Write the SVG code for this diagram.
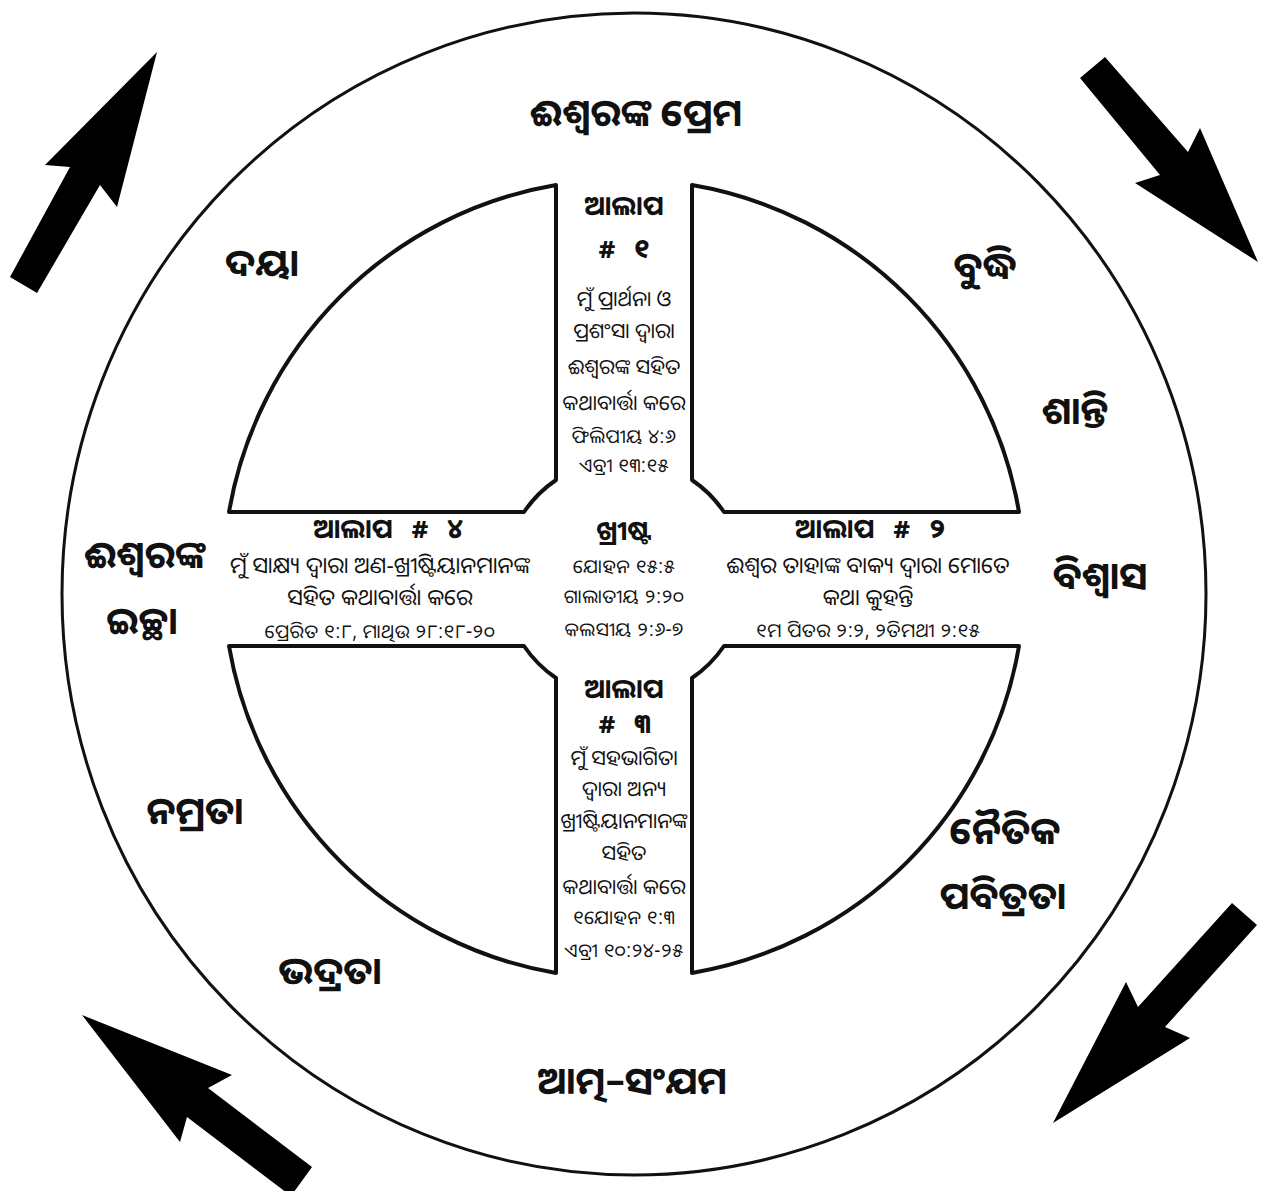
<svg xmlns="http://www.w3.org/2000/svg" width="1282" height="1191" viewBox="0 0 1282 1191">
<style>
text{font-family:"Noto Sans Oriya","Noto Sans","DejaVu Sans",sans-serif;fill:#111;text-anchor:middle}
.big{font-size:38px;font-weight:bold}
.hd{font-size:27px;font-weight:bold;word-spacing:12px}
.bd{font-size:22.5px}
.cl{font-size:21px}
.rf{font-size:19px;letter-spacing:0.5px}
.q{fill:#fff;stroke:#111;stroke-width:4;stroke-linejoin:round}
.arrow{fill:#000}
</style>
<rect width="1282" height="1191" fill="#fff"/>
<g id="outer-ring">
<ellipse cx="634" cy="594" rx="572" ry="581" fill="none" stroke="#111" stroke-width="3"/>
</g>
<g id="arrows">
<polygon class="arrow" points="157,52 117,207 100,185 37,293 10,277 70,167 45,165"/>
<polygon class="arrow" points="1080,78 1105,57 1188,152 1200,128 1258,262 1135,183 1160,175"/>
<polygon class="arrow" points="1232,903 1257,925 1165,1027 1190,1038 1053,1123 1126,982 1138,1007"/>
<polygon class="arrow" points="82,1015 232,1075 208,1088 312,1167 291,1196 187,1117 180,1142"/>
</g>
<g id="quadrant-tl"><path class="q" d="M556,185 L556,480 A120,120 0 0 0 524,512 L229,512 A400,400 0 0 1 556,185 Z"/></g>
<g id="quadrant-tr"><path class="q" d="M692,185 L692,480 A120,120 0 0 1 724,512 L1019,512 A400,400 0 0 0 692,185 Z"/></g>
<g id="quadrant-bl"><path class="q" d="M556,973 L556,678 A120,120 0 0 1 524,646 L229,646 A400,400 0 0 0 556,973 Z"/></g>
<g id="quadrant-br"><path class="q" d="M692,973 L692,678 A120,120 0 0 0 724,646 L1019,646 A400,400 0 0 1 692,973 Z"/></g>

<g id="ring-labels">
<text class="big" x="636" y="126">ଈଶ୍ୱରଙ୍କ ପ୍ରେମ</text>
<text class="big" x="262" y="276">ଦୟା</text>
<text class="big" x="985" y="279">ବୁଦ୍ଧି</text>
<text class="big" x="1075" y="424">ଶାନ୍ତି</text>
<text class="big" x="1100" y="589">ବିଶ୍ୱାସ</text>
<text class="big" x="145" y="568">ଈଶ୍ୱରଙ୍କ</text>
<text class="big" x="142" y="634">ଇଚ୍ଛା</text>
<text class="big" x="195" y="824">ନମ୍ରତା</text>
<text class="big" x="330" y="984">ଭଦ୍ରତା</text>
<text class="big" x="632" y="1094">ଆତ୍ମ–ସଂଯମ</text>
<text class="big" x="1005" y="844">ନୈତିକ</text>
<text class="big" x="1003" y="909">ପବିତ୍ରତା</text>
</g>

<g id="alap-1">
<text class="hd" x="624" y="215">ଆଲାପ</text>
<text class="hd" x="624" y="258"># ୧</text>
<text class="cl" x="624" y="306">ମୁଁ ପ୍ରାର୍ଥନା ଓ</text>
<text class="cl" x="624" y="338">ପ୍ରଶଂସା ଦ୍ୱାରା</text>
<text class="cl" x="624" y="374">ଈଶ୍ୱରଙ୍କ ସହିତ</text>
<text class="cl" x="624" y="410">କଥାବାର୍ତ୍ତା କରେ</text>
<text class="rf" x="624" y="443">ଫିଲିପୀୟ ୪:୬</text>
<text class="rf" x="624" y="472">ଏବ୍ରୀ ୧୩:୧୫</text>
</g>

<g id="alap-4">
<text class="hd" x="388" y="538">ଆଲାପ # ୪</text>
<text class="bd" x="380" y="573">ମୁଁ ସାକ୍ଷ୍ୟ ଦ୍ୱାରା ଅଣ-ଖ୍ରୀଷ୍ଟିୟାନମାନଙ୍କ</text>
<text class="bd" x="380" y="605">ସହିତ କଥାବାର୍ତ୍ତା କରେ</text>
<text class="rf" x="380" y="638">ପ୍ରେରିତ ୧:୮, ମାଥିଉ ୨୮:୧୮-୨୦</text>
</g>

<g id="christ">
<text class="hd" x="624" y="540">ଖ୍ରୀଷ୍ଟ</text>
<text class="rf" x="624" y="573">ଯୋହନ ୧୫:୫</text>
<text class="rf" x="624" y="603">ଗାଲାତୀୟ ୨:୨୦</text>
<text class="rf" x="624" y="636">କଲସୀୟ ୨:୬-୭</text>
</g>

<g id="alap-2">
<text class="hd" x="870" y="538">ଆଲାପ # ୨</text>
<text class="bd" x="868" y="573">ଈଶ୍ୱର ତାହାଙ୍କ ବାକ୍ୟ ଦ୍ୱାରା ମୋତେ</text>
<text class="bd" x="868" y="605">କଥା କୁହନ୍ତି</text>
<text class="rf" x="868" y="637">୧ମ ପିତର ୨:୨, ୨ତିମଥୀ ୨:୧୫</text>
</g>

<g id="alap-3">
<text class="hd" x="624" y="698">ଆଲାପ</text>
<text class="hd" x="624" y="733"># ୩</text>
<text class="cl" x="624" y="765">ମୁଁ ସହଭାଗିତା</text>
<text class="cl" x="624" y="796">ଦ୍ୱାରା ଅନ୍ୟ</text>
<text class="cl" x="624" y="828">ଖ୍ରୀଷ୍ଟିୟାନମାନଙ୍କ</text>
<text class="cl" x="624" y="860">ସହିତ</text>
<text class="cl" x="624" y="894">କଥାବାର୍ତ୍ତା କରେ</text>
<text class="rf" x="624" y="924">୧ଯୋହନ ୧:୩</text>
<text class="rf" x="624" y="957">ଏବ୍ରୀ ୧୦:୨୪-୨୫</text>
</g>
</svg>
